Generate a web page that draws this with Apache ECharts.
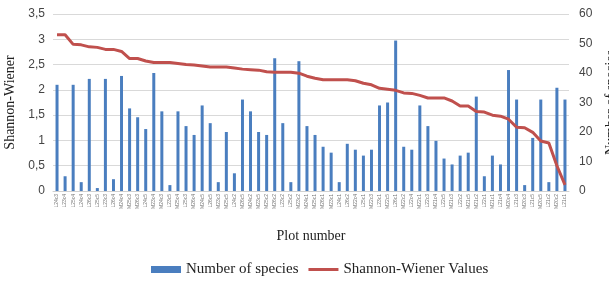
<!DOCTYPE html>
<html>
<head>
<meta charset="utf-8">
<script src="https://cdn.jsdelivr.net/npm/echarts@6/dist/echarts.min.js"></script>
<style>
  html, body { margin: 0; padding: 0; background: #fff; }
  #chart { width: 609px; height: 286px; }
</style>
</head>
<body>
<div id="chart"></div>
<script>
// plot codes (too small to read in the source, approximated)
var plots = [
  'L24c3','L23c4','L25c4','L24c4','L26c3','L25c5','L23c3','L26c4',
  'M24c4','M25c3','M26c3','L24c5','M23c4','M24c3','L23c5','M25c4',
  'L25c3','M26c4','M24c5','L26c5','M23c3','M25c5','L24c2','M26c5',
  'M24c2','M23c5','M25c2','M26c2','L23c2','L25c2','M23c2','M24c1',
  'M25c1','M26c1','M23c1','L24c1','L26c2','M22c4','L25c1','M22c3',
  'L23c1','M22c5','L26c1','M22c2','L22c4','M22c1','L22c3','M21c4',
  'L22c5','M21c3','L22c2','M21c5','M21c2','L22c1','M21c1','L21c4',
  'M20c4','L21c3','M20c3','L21c5','M20c5','L21c2','M20c2','L21c1'
];

// number of species (right axis)
var species = [
  36, 5, 36, 3, 38, 1, 38, 4, 39, 28, 25, 21, 40, 27, 2, 27,
  22, 19, 29, 23, 3, 20, 6, 31, 27, 20, 19, 45, 23, 3, 44, 22,
  19, 15, 13, 3, 16, 14, 12, 14, 29, 30, 51, 15, 14, 29, 22, 17,
  11, 9, 12, 13, 32, 5, 12, 9, 41, 31, 2, 18, 31, 3, 35, 31
];

// Shannon-Wiener index (left axis)
var shannon = [
  3.09, 3.09, 2.90, 2.89, 2.85, 2.84, 2.80, 2.80, 2.76, 2.62, 2.62, 2.57, 2.54, 2.54, 2.54, 2.52,
  2.50, 2.49, 2.47, 2.45, 2.45, 2.45, 2.43, 2.41, 2.40, 2.39, 2.36, 2.35, 2.35, 2.35, 2.33, 2.27,
  2.23, 2.20, 2.20, 2.20, 2.20, 2.18, 2.13, 2.10, 2.03, 2.01, 1.99, 1.94, 1.93, 1.89, 1.84, 1.84,
  1.84, 1.78, 1.68, 1.68, 1.57, 1.56, 1.50, 1.48, 1.42, 1.26, 1.25, 1.16, 0.99, 0.95, 0.50, 0.12
];

var chart = echarts.init(document.getElementById('chart'));

var serif = '"Liberation Serif", "DejaVu Serif", serif';
var sans = '"Liberation Sans", "DejaVu Sans", sans-serif';

chart.setOption({
  backgroundColor: '#fff',
  animation: false,
  grid: { left: 53, right: 40, top: 14, bottom: 95, outerBoundsMode: 'none' },
  legend: {
    bottom: 4,
    left: 146,
    itemGap: 10,
    itemWidth: 30,
    itemHeight: 7,
    textStyle: { fontFamily: serif, fontSize: 15, color: '#222' },
    data: [
      { name: 'Number of species', icon: 'rect' },
      { name: 'Shannon-Wiener Values', icon: 'path://M0,0 L30,0 L30,3 L0,3 Z', itemStyle: { color: '#c0504d' } }
    ]
  },
  xAxis: {
    type: 'category',
    data: plots,
    name: 'Plot number',
    nameLocation: 'middle',
    nameGap: 38,
    nameTextStyle: { fontFamily: serif, fontSize: 14, color: '#222' },
    axisTick: { show: false },
    axisLine: { lineStyle: { color: '#d0d0d0' } },
    axisLabel: {
      interval: 0,
      rotate: 90,
      fontSize: 5,
      color: '#777',
      margin: 3,
      fontFamily: sans
    }
  },
  yAxis: [
    {
      type: 'value',
      min: 0,
      max: 3.5,
      interval: 0.5,
      name: 'Shannon-Wiener',
      nameLocation: 'middle',
      nameGap: 36,
      nameTextStyle: { fontFamily: serif, fontSize: 14, color: '#222' },
      axisLine: { show: false },
      axisTick: { show: false },
      axisLabel: {
        fontFamily: sans,
        fontSize: 12,
        color: '#444',
        formatter: function (v) { return String(v).replace('.', ','); }
      },
      splitLine: { lineStyle: { color: '#d9d9d9' } }
    },
    {
      type: 'value',
      min: 0,
      max: 60,
      interval: 10,
      name: 'Number of species',
      nameLocation: 'middle',
      nameRotate: 90,
      nameGap: 35,
      nameTextStyle: { fontFamily: serif, fontSize: 14, color: '#222' },
      axisLine: { show: false },
      axisTick: { show: false },
      axisLabel: { fontFamily: sans, fontSize: 12, color: '#444', margin: 10 },
      splitLine: { show: false }
    }
  ],
  series: [
    {
      name: 'Number of species',
      type: 'bar',
      yAxisIndex: 1,
      data: species,
      barWidth: 3,
      itemStyle: { color: '#4a7ebf' }
    },
    {
      name: 'Shannon-Wiener Values',
      type: 'line',
      yAxisIndex: 0,
      data: shannon,
      symbol: 'none',
      lineStyle: { color: '#c0504d', width: 3 },
      itemStyle: { color: '#c0504d' }
    }
  ]
});
</script>
</body>
</html>
